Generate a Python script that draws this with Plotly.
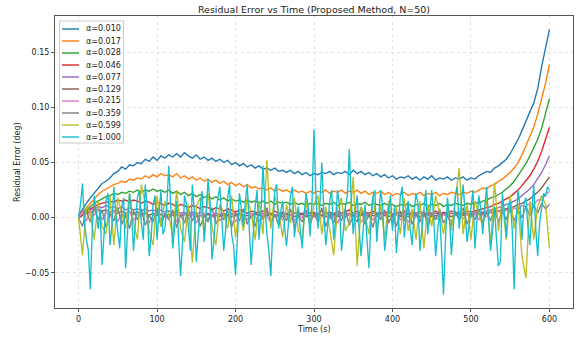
import plotly.graph_objects as go

# ---------------- data ----------------
time_s = list(range(0, 601, 5))
time_fine_s = [i * 2.5 for i in range(241)]   # sampling of the α=1.000 series

alpha_labels = ["α=0.010", "α=0.017", "α=0.028", "α=0.046", "α=0.077",
                "α=0.129", "α=0.215", "α=0.359", "α=0.599", "α=1.000"]

line_colors = ["#1f77b4", "#ff7f0e", "#2ca02c", "#d62728", "#9467bd",
               "#8c564b", "#e377c2", "#7f7f7f", "#bcbd22", "#17becf"]

err_a0010 = [
    0.002, 0.008, 0.013, 0.018, 0.022, 0.027, 0.031, 0.033, 0.036, 0.040,
    0.042, 0.046, 0.044, 0.048, 0.047, 0.050, 0.049, 0.053, 0.051, 0.055,
    0.052, 0.056, 0.054, 0.057, 0.055, 0.058, 0.055, 0.059, 0.056, 0.054,
    0.057, 0.053, 0.055, 0.052, 0.054, 0.051, 0.053, 0.050, 0.052, 0.048,
    0.050, 0.047, 0.049, 0.046, 0.048, 0.045, 0.047, 0.044, 0.045, 0.043,
    0.045, 0.042, 0.043, 0.041, 0.043, 0.040, 0.042, 0.039, 0.041, 0.038,
    0.040, 0.039, 0.041, 0.040, 0.042, 0.039, 0.041, 0.040, 0.042, 0.039,
    0.043, 0.040, 0.042, 0.039, 0.041, 0.038, 0.040, 0.037, 0.039, 0.036,
    0.038, 0.035, 0.037, 0.036, 0.038, 0.035, 0.037, 0.034, 0.037, 0.035,
    0.038, 0.034, 0.036, 0.035, 0.037, 0.034, 0.036, 0.035, 0.037, 0.034,
    0.036, 0.035, 0.038, 0.040, 0.042, 0.041, 0.045, 0.047, 0.050, 0.053,
    0.058, 0.064, 0.071, 0.079, 0.088, 0.096, 0.104, 0.117, 0.137, 0.155,
    0.171,
]

err_a0017 = [
    0.001, 0.005, 0.010, 0.014, 0.018, 0.021, 0.024, 0.026, 0.028, 0.030,
    0.031, 0.033, 0.032, 0.035, 0.034, 0.036, 0.035, 0.038, 0.036, 0.039,
    0.037, 0.040, 0.038, 0.039, 0.037, 0.040, 0.036, 0.038, 0.035, 0.037,
    0.034, 0.036, 0.033, 0.035, 0.032, 0.034, 0.031, 0.033, 0.030, 0.032,
    0.029, 0.031, 0.028, 0.030, 0.027, 0.028, 0.026, 0.027, 0.025, 0.027,
    0.024, 0.026, 0.024, 0.025, 0.023, 0.025, 0.023, 0.024, 0.022, 0.024,
    0.022, 0.024, 0.023, 0.025, 0.022, 0.024, 0.023, 0.025, 0.022, 0.024,
    0.023, 0.025, 0.022, 0.024, 0.021, 0.023, 0.022, 0.024, 0.021, 0.023,
    0.020, 0.022, 0.021, 0.023, 0.020, 0.022, 0.021, 0.023, 0.020, 0.022,
    0.021, 0.023, 0.020, 0.022, 0.021, 0.023, 0.022, 0.021, 0.023, 0.022,
    0.024, 0.023, 0.025, 0.027, 0.026, 0.029, 0.030, 0.033, 0.035, 0.038,
    0.041, 0.045, 0.050, 0.057, 0.065, 0.073, 0.082, 0.094, 0.107, 0.122,
    0.139,
]

err_a0028 = [
    0.000, 0.003, 0.007, 0.010, 0.013, 0.015, 0.017, 0.019, 0.020, 0.022,
    0.021, 0.023, 0.022, 0.024, 0.023, 0.025, 0.023, 0.025, 0.024, 0.026,
    0.024, 0.025, 0.023, 0.025, 0.022, 0.024, 0.021, 0.023, 0.020, 0.022,
    0.019, 0.021, 0.018, 0.020, 0.017, 0.019, 0.016, 0.018, 0.015, 0.017,
    0.015, 0.016, 0.014, 0.016, 0.014, 0.015, 0.013, 0.015, 0.013, 0.015,
    0.012, 0.014, 0.013, 0.014, 0.012, 0.014, 0.012, 0.013, 0.011, 0.013,
    0.012, 0.013, 0.011, 0.013, 0.012, 0.014, 0.011, 0.013, 0.012, 0.014,
    0.011, 0.013, 0.012, 0.014, 0.011, 0.013, 0.012, 0.011, 0.013, 0.011,
    0.012, 0.010, 0.012, 0.011, 0.013, 0.010, 0.012, 0.011, 0.013, 0.010,
    0.012, 0.011, 0.013, 0.010, 0.012, 0.011, 0.013, 0.012, 0.011, 0.013,
    0.012, 0.014, 0.013, 0.015, 0.016, 0.018, 0.019, 0.021, 0.023, 0.026,
    0.029, 0.033, 0.038, 0.043, 0.049, 0.056, 0.063, 0.071, 0.081, 0.094,
    0.108,
]

err_a0046 = [
    0.000, 0.003, 0.006, 0.008, 0.010, 0.012, 0.013, 0.014, 0.015, 0.014,
    0.016, 0.015, 0.016, 0.014, 0.016, 0.015, 0.013, 0.015, 0.014, 0.012,
    0.014, 0.013, 0.011, 0.013, 0.012, 0.010, 0.012, 0.011, 0.009, 0.011,
    0.010, 0.008, 0.010, 0.009, 0.007, 0.009, 0.008, 0.006, 0.008, 0.007,
    0.005, 0.007, 0.006, 0.004, 0.006, 0.005, 0.004, 0.006, 0.005, 0.003,
    0.006, 0.004, 0.005, 0.003, 0.006, 0.004, 0.005, 0.003, 0.006, 0.004,
    0.005, 0.003, 0.006, 0.004, 0.005, 0.003, 0.006, 0.004, 0.005, 0.007,
    0.004, 0.006, 0.003, 0.005, 0.004, 0.006, 0.003, 0.005, 0.004, 0.006,
    0.003, 0.005, 0.004, 0.006, 0.003, 0.005, 0.004, 0.006, 0.003, 0.005,
    0.004, 0.006, 0.003, 0.005, 0.004, 0.006, 0.004, 0.005, 0.004, 0.006,
    0.005, 0.006, 0.007, 0.008, 0.009, 0.010, 0.012, 0.013, 0.015, 0.017,
    0.019, 0.022, 0.025, 0.029, 0.033, 0.038, 0.044, 0.051, 0.060, 0.070,
    0.082,
]

err_a0077 = [
    0.000, 0.002, 0.005, 0.007, 0.008, 0.010, 0.009, 0.011, 0.009, 0.010,
    0.008, 0.010, 0.007, 0.009, 0.007, 0.008, 0.006, 0.008, 0.006, 0.007,
    0.005, 0.007, 0.005, 0.006, 0.004, 0.006, 0.004, 0.005, 0.003, 0.005,
    0.003, 0.005, 0.003, 0.004, 0.002, 0.004, 0.003, 0.004, 0.002, 0.004,
    0.003, 0.004, 0.002, 0.004, 0.003, 0.004, 0.002, 0.004, 0.003, 0.004,
    0.002, 0.004, 0.003, 0.004, 0.002, 0.004, 0.003, 0.004, 0.002, 0.004,
    0.003, 0.004, 0.002, 0.004, 0.003, 0.004, 0.002, 0.004, 0.003, 0.004,
    0.002, 0.004, 0.003, 0.004, 0.002, 0.004, 0.003, 0.004, 0.002, 0.004,
    0.003, 0.004, 0.002, 0.004, 0.003, 0.004, 0.002, 0.004, 0.003, 0.004,
    0.002, 0.004, 0.003, 0.004, 0.002, 0.004, 0.003, 0.004, 0.003, 0.004,
    0.003, 0.005, 0.004, 0.005, 0.006, 0.007, 0.008, 0.009, 0.010, 0.012,
    0.013, 0.015, 0.017, 0.020, 0.023, 0.026, 0.030, 0.035, 0.041, 0.048,
    0.056,
]

err_a0129 = [
    0.000, 0.002, 0.004, 0.005, 0.006, 0.007, 0.006, 0.007, 0.005, 0.006,
    0.004, 0.006, 0.004, 0.005, 0.003, 0.005, 0.003, 0.004, 0.002, 0.004,
    0.002, 0.003, 0.001, 0.003, 0.002, 0.003, 0.001, 0.003, 0.002, 0.003,
    0.001, 0.002, 0.001, 0.003, 0.001, 0.002, 0.001, 0.003, 0.002, 0.001,
    0.002, 0.003, 0.001, 0.002, 0.001, 0.003, 0.002, 0.001, 0.002, 0.003,
    0.001, 0.002, 0.001, 0.003, 0.002, 0.001, 0.002, 0.003, 0.001, 0.002,
    0.001, 0.003, 0.002, 0.001, 0.002, 0.003, 0.001, 0.002, 0.001, 0.003,
    0.002, 0.001, 0.002, 0.003, 0.001, 0.002, 0.001, 0.003, 0.002, 0.001,
    0.002, 0.003, 0.001, 0.002, 0.001, 0.003, 0.002, 0.001, 0.002, 0.003,
    0.001, 0.002, 0.001, 0.003, 0.002, 0.001, 0.002, 0.003, 0.002, 0.003,
    0.002, 0.003, 0.003, 0.004, 0.004, 0.005, 0.006, 0.006, 0.007, 0.008,
    0.009, 0.010, 0.012, 0.013, 0.015, 0.017, 0.020, 0.023, 0.027, 0.032,
    0.037,
]

err_a0215 = [
    0.000, 0.004, -0.003, 0.006, 0.002, 0.008, -0.002, 0.005, 0.001, 0.007,
    -0.004, 0.004, 0.000, 0.006, -0.003, 0.003, 0.001, 0.005, -0.005, 0.002,
    0.004, -0.002, 0.003, 0.000, 0.005, -0.004, 0.002, 0.004, -0.001, 0.003,
    -0.005, 0.002, 0.004, -0.002, 0.001, 0.005, -0.003, 0.002, 0.000, 0.004,
    -0.004, 0.003, 0.001, -0.002, 0.004, 0.000, -0.003, 0.003, 0.001, -0.004,
    0.002, 0.004, -0.002, 0.001, 0.003, -0.003, 0.002, 0.000, 0.004, -0.002,
    0.003, -0.004, 0.001, 0.003, -0.001, 0.002, -0.005, 0.003, 0.000, 0.004,
    -0.002, 0.002, -0.004, 0.001, 0.003, -0.002, 0.002, 0.000, 0.004, -0.003,
    0.001, 0.003, -0.002, 0.002, -0.004, 0.001, 0.003, -0.001, 0.002, -0.003,
    0.004, 0.000, -0.002, 0.003, 0.001, -0.003, 0.002, 0.004, -0.001, 0.003,
    0.000, 0.004, -0.002, 0.003, 0.001, 0.005, 0.002, 0.006, 0.003, 0.007,
    0.005, 0.009, 0.007, 0.011, 0.010, 0.013, 0.012, 0.016, 0.016, 0.021,
    0.024,
]

err_a0359 = [
    0.000, -0.008, 0.006, -0.004, 0.010, -0.002, 0.007, -0.009, 0.004, -0.003,
    0.009, -0.006, 0.003, -0.010, 0.006, -0.002, 0.008, -0.007, 0.002, -0.004,
    0.009, -0.008, 0.004, -0.002, 0.007, -0.009, 0.003, -0.005, 0.008, -0.003,
    0.005, -0.008, 0.002, -0.004, 0.009, -0.006, 0.003, -0.002, 0.007, -0.009,
    0.004, -0.003, 0.008, -0.006, 0.002, -0.008, 0.006, -0.002, 0.009, -0.005,
    0.003, -0.007, 0.005, -0.003, 0.008, -0.009, 0.002, -0.004, 0.007, -0.006,
    0.004, -0.002, 0.009, -0.008, 0.003, -0.005, 0.006, -0.003, 0.008, -0.007,
    0.002, -0.004, 0.009, -0.006, 0.003, -0.009, 0.005, -0.002, 0.007, -0.005,
    0.002, -0.008, 0.006, -0.003, 0.009, -0.006, 0.003, -0.004, 0.007, -0.009,
    0.004, -0.002, 0.008, -0.005, 0.002, -0.007, 0.006, -0.003, 0.009, -0.006,
    0.004, -0.002, 0.007, -0.005, 0.005, -0.003, 0.008, -0.004, 0.006, -0.002,
    0.009, -0.003, 0.007, 0.000, 0.010, 0.002, 0.011, 0.004, 0.013, 0.008,
    0.012,
]

err_a0599 = [
    0.000, -0.034, 0.010, 0.004, -0.020, 0.015, -0.008, -0.015, 0.020, -0.025,
    0.018, 0.005, -0.010, 0.022, -0.005, -0.020, 0.030, 0.012, -0.012, -0.025,
    0.020, -0.008, 0.015, 0.002, -0.018, 0.025, -0.010, -0.022, 0.012, -0.041,
    0.010, 0.018, -0.015, 0.022, -0.008, -0.025, 0.012, 0.004, -0.010, 0.020,
    -0.018, 0.008, -0.012, 0.018, 0.005, -0.020, 0.015, -0.015, 0.052, -0.010,
    0.020, 0.006, -0.018, 0.012, -0.005, 0.018, -0.012, -0.020, 0.015, -0.008,
    0.012, 0.020, -0.015, 0.010, -0.010, -0.034, 0.008, 0.018, -0.012, -0.005,
    0.037, -0.044, 0.010, 0.002, -0.015, 0.020, -0.010, 0.012, -0.020, 0.015,
    -0.008, 0.010, -0.015, 0.018, -0.012, 0.008, -0.020, 0.015, -0.028, 0.012,
    -0.008, 0.020, 0.005, -0.015, 0.010, -0.012, 0.018, 0.045, -0.015, 0.012,
    -0.020, 0.015, 0.004, -0.008, 0.018, -0.025, 0.032, -0.012, 0.015, -0.020,
    0.020, -0.010, 0.012, -0.035, -0.055, 0.015, -0.020, 0.010, 0.020, 0.012,
    -0.028,
]

err_a1000 = [
    0.000, 0.012, 0.031, -0.005, -0.020, -0.030, -0.065, -0.010, 0.020, 0.005,
    -0.010, 0.008, -0.043, -0.015, 0.015, 0.022, -0.025, -0.008, 0.028, 0.002,
    -0.015, -0.028, 0.010, 0.018, -0.046, -0.012, 0.022, 0.006, -0.030, -0.004,
    0.018, 0.025, -0.005, -0.020, 0.030, 0.010, -0.035, -0.018, 0.012, 0.020,
    -0.020, 0.004, 0.025, -0.015, -0.010, 0.012, 0.047, 0.010, -0.028, -0.008,
    0.015, -0.020, -0.053, -0.022, 0.020, 0.012, -0.012, -0.030, 0.030, 0.005,
    -0.040, -0.012, 0.010, 0.024, -0.022, 0.002, 0.035, 0.015, -0.038, -0.020,
    0.005, 0.018, 0.028, -0.002, -0.030, -0.010, 0.018, 0.030, -0.015, -0.025,
    -0.052, -0.018, 0.022, 0.008, -0.008, 0.015, 0.030, -0.010, -0.043, -0.015,
    0.010, 0.025, -0.020, 0.005, 0.047, 0.012, -0.015, -0.030, -0.053, -0.010,
    0.025, 0.030, -0.010, 0.005, 0.015, -0.008, -0.026, -0.005, 0.020, 0.028,
    -0.018, -0.002, 0.010, -0.012, -0.028, 0.004, 0.022, 0.010, -0.017, 0.015,
    0.080, 0.020, -0.010, 0.012, 0.050, 0.005, -0.025, -0.008, 0.015, 0.025,
    -0.020, -0.002, 0.025, 0.010, -0.030, -0.012, 0.010, 0.020, 0.062, 0.015,
    -0.015, 0.005, 0.020, -0.010, -0.035, -0.012, 0.012, -0.020, -0.046, -0.005,
    0.018, 0.025, -0.022, 0.002, 0.025, 0.010, -0.030, -0.015, 0.008, 0.020,
    -0.012, 0.010, -0.032, -0.008, 0.020, 0.028, -0.018, 0.002, 0.015, -0.010,
    -0.025, 0.005, 0.022, 0.012, -0.030, -0.010, 0.010, 0.025, -0.015, 0.005,
    0.025, 0.000, -0.035, -0.012, 0.005, -0.030, -0.070, -0.020, 0.018, 0.002,
    -0.034, -0.010, 0.020, 0.028, -0.010, 0.012, 0.030, 0.005, -0.022, -0.008,
    0.012, 0.025, -0.028, -0.005, 0.020, 0.008, -0.015, 0.010, 0.028, -0.002,
    -0.030, -0.012, 0.010, -0.020, -0.044, -0.040, 0.022, 0.005, -0.018, 0.012,
    0.015, -0.010, -0.065, -0.005, 0.025, 0.010, -0.020, 0.012, 0.018, -0.008,
    -0.025, 0.005, 0.030, -0.010, -0.035, -0.005, 0.010, 0.022, 0.019, 0.028,
    0.025,
]

y_tick_vals = [-0.05, 0.0, 0.05, 0.10, 0.15]
y_tick_text = ["−0.05", "0.00", "0.05", "0.10", "0.15"]
x_tick_vals = [0, 100, 200, 300, 400, 500, 600]

series = [err_a0010, err_a0017, err_a0028, err_a0046, err_a0077,
          err_a0129, err_a0215, err_a0359, err_a0599, err_a1000]
series_times = [time_s] * 9 + [time_fine_s]

# ---------------- figure ----------------
W, H = 577, 337
ML, MR, MT, MB = 55, 4, 16, 29
PW, PH = W - ML - MR, H - MT - MB
FONT = "DejaVu Sans"

fig = go.Figure()
for lab, col, xs, ys in zip(alpha_labels, line_colors, series_times, series):
    fig.add_trace(go.Scatter(x=xs, y=ys, mode="lines", name=lab,
                             line=dict(color=col, width=1.35),
                             showlegend=False, hoverinfo="skip"))

all_y = [v for s in series for v in s]
ymin, ymax = min(all_y), max(all_y)
pad = 0.05 * (ymax - ymin)
xpad = 0.05 * (max(time_s) - min(time_s))


def px_x(px):
    return (px - ML) / PW


def px_y(py):
    return 1 - (py - MT) / PH


# matplotlib-like legend box (upper left, inside the axes)
shapes = [dict(type="rect", xref="paper", yref="paper", layer="above",
               x0=px_x(59.5), x1=px_x(123.5), y0=px_y(143), y1=px_y(21),
               fillcolor="rgba(255,255,255,0.85)",
               line=dict(color="#cccccc", width=1))]
annotations = []
for i, (lab, col) in enumerate(zip(alpha_labels, line_colors)):
    cy = 29 + 12 * i
    shapes.append(dict(type="line", xref="paper", yref="paper", layer="above",
                       x0=px_x(62), x1=px_x(79), y0=px_y(cy), y1=px_y(cy),
                       line=dict(color=col, width=1.4)))
    annotations.append(dict(text=lab, xref="paper", yref="paper",
                            x=px_x(84), y=px_y(cy), xanchor="left", yanchor="middle",
                            showarrow=False, font=dict(family=FONT, size=8, color="#222")))

annotations.append(dict(text="Time (s)", xref="paper", yref="paper",
                        x=0.5, y=px_y(329), xanchor="center", yanchor="middle",
                        showarrow=False, font=dict(family=FONT, size=8, color="#222")))
annotations.append(dict(text="Residual Error (deg)", xref="paper", yref="paper",
                        x=px_x(17), y=0.5, xanchor="center", yanchor="middle",
                        textangle=-90, showarrow=False,
                        font=dict(family=FONT, size=8, color="#222")))

axis_common = dict(showline=True, mirror=True, linecolor="#555", linewidth=1,
                   ticks="outside", ticklen=3, tickwidth=1, tickcolor="#555",
                   showgrid=True, gridcolor="#e3e3e3", griddash="dot", gridwidth=1,
                   zeroline=False, tickfont=dict(family=FONT, size=8, color="#222"))

fig.update_layout(
    width=W, height=H,
    margin=dict(l=ML, r=MR, t=MT, b=MB),
    paper_bgcolor="white", plot_bgcolor="white",
    font=dict(family=FONT, size=8, color="#222"),
    title=dict(text="Residual Error vs Time (Proposed Method, N=50)",
               x=(ML + PW / 2) / W, xref="container", xanchor="center",
               y=1 - 9.5 / H, yref="container", yanchor="middle",
               font=dict(family=FONT, size=9.5, color="#222")),
    xaxis=dict(range=[min(time_s) - xpad, max(time_s) + xpad],
               tickvals=x_tick_vals, **axis_common),
    yaxis=dict(range=[ymin - pad, ymax + pad],
               tickvals=y_tick_vals, ticktext=y_tick_text, **axis_common),
    shapes=shapes,
    annotations=annotations,
    showlegend=False,
)

fig.write_html("out.html")
